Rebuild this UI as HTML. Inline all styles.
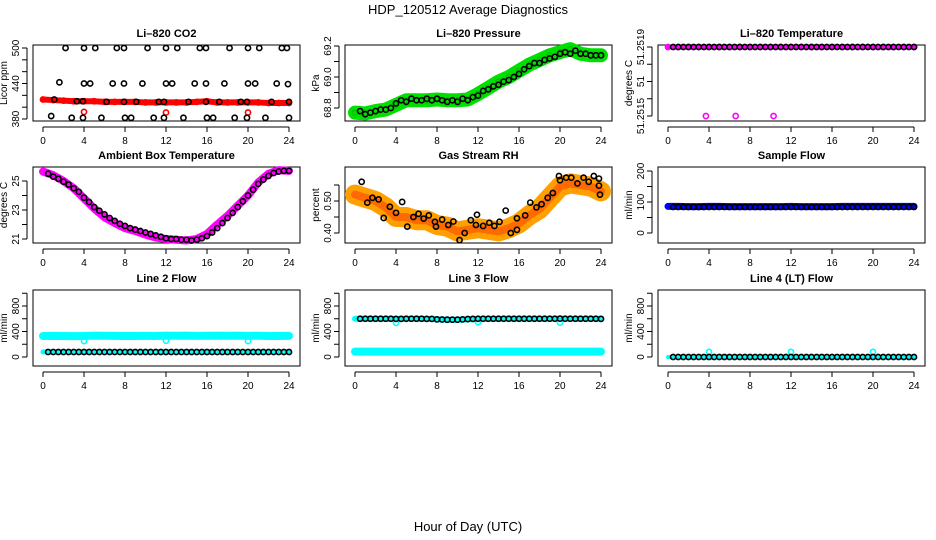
<!DOCTYPE html>
<html><head><meta charset="utf-8"><style>
html,body{margin:0;padding:0;background:#fff;}
svg{display:block;font-family:"Liberation Sans",sans-serif;}
</style></head><body>
<svg id="chart" width="936" height="540" viewBox="0 0 936 540" xmlns="http://www.w3.org/2000/svg">
<text x="468" y="14" text-anchor="middle" font-size="13">HDP_120512  Average Diagnostics</text>
<text x="468" y="531" text-anchor="middle" font-size="13">Hour of Day (UTC)</text>
</svg>
<script>
const H25=[0,1,2,3,4,5,6,7,8,9,10,11,12,13,14,15,16,17,18,19,20,21,22,23,24];
const H48=[0.5,1,1.5,2,2.5,3,3.5,4,4.5,5,5.5,6,6.5,7,7.5,8,8.5,9,9.5,10,10.5,11,11.5,12,12.5,13,13.5,14,14.5,15,15.5,16,16.5,17,17.5,18,18.5,19,19.5,20,20.5,21,21.5,22,22.5,23,23.5,24];
const xTicks=[0,4,8,12,16,20,24];
const OUT_H=[4,12,20];
// CO2
const co2Red=[413,412,411,410,410,410,409,409,409,409,408,408,408,408,408,409,410,408,408,408,408,408,407,407,407];
const co2RedOutV=[392,391,391];
const co2BlackH=[2.2,4.0,5.1,7.2,7.9,10.2,12.0,13.1,15.3,15.9,18.2,20.0,21.1,23.3,23.8,1.6,4.0,4.6,6.8,7.9,9.7,12.0,12.6,14.8,15.9,17.7,20.0,20.7,22.8,23.9,1.1,3.3,3.9,6.2,7.9,9.1,11.3,11.8,14.2,15.9,17.2,19.3,19.9,22.3,24,0.8,2.8,3.9,5.7,8.0,8.6,10.8,11.8,13.7,16.0,16.6,18.7,19.9,21.7,24];
const co2BlackV=[500,500,500,500,500,500,500,500,500,500,500,500,500,500,500,442,440,440,440,440,440,440,440,440,440,440,440,440,440,439,413,410,410,409,409,409,409,409,409,409,409,409,409,409,409,385,382,382,382,382,382,382,382,382,382,382,382,382,382,382];
// Pressure
const presGreen=[68.77,68.765,68.78,68.79,68.82,68.85,68.85,68.85,68.855,68.85,68.85,68.855,68.89,68.93,68.97,69.0,69.04,69.08,69.11,69.14,69.16,69.18,69.15,69.14,69.14];
const presBlack=[68.78,68.76,68.77,68.78,68.79,68.79,68.80,68.83,68.85,68.84,68.86,68.85,68.85,68.86,68.85,68.86,68.85,68.84,68.85,68.84,68.86,68.85,68.87,68.88,68.91,68.92,68.94,68.95,68.97,68.98,69.0,69.02,69.05,69.07,69.09,69.09,69.11,69.12,69.13,69.15,69.16,69.15,69.17,69.15,69.15,69.14,69.14,69.14];
// Li-820 temperature
const ltMag=[51.2519,51.2519,51.2519,51.2519,51.2519,51.2519,51.2519,51.2519,51.2519,51.2519,51.2519,51.2519,51.2519,51.2519,51.2519,51.2519,51.2519,51.2519,51.2519,51.2519,51.2519,51.2519,51.2519,51.2519,51.2519];
const ltMagOutH=[3.7,6.6,10.3];
const ltMagOutV=[51.2515,51.2515,51.2515];
const ltBlack=H48.map(()=>51.2519);
// Ambient
const ambMag=[25.65,25.4,25.0,24.5,23.8,23.1,22.5,22.1,21.75,21.55,21.3,21.1,21.0,20.95,20.9,21.0,21.35,22.0,22.6,23.3,24.0,24.9,25.5,25.75,25.7];
const ambBlack=[25.5,25.3,25.15,24.95,24.75,24.5,24.25,23.85,23.55,23.2,22.95,22.7,22.45,22.25,22.05,21.9,21.75,21.65,21.55,21.45,21.35,21.25,21.15,21.05,21.0,21.0,20.95,20.95,20.9,20.95,21.05,21.2,21.45,21.75,22.1,22.45,22.8,23.2,23.6,24.0,24.4,24.8,25.1,25.35,25.55,25.65,25.7,25.7];
// RH
const rhBand=[0.52,0.51,0.50,0.48,0.45,0.45,0.44,0.44,0.425,0.42,0.405,0.41,0.415,0.41,0.405,0.415,0.43,0.455,0.475,0.51,0.545,0.555,0.55,0.545,0.53];
const rhBlackH=[0.65,1.2,1.7,2.3,3.4,2.8,4,4.6,5.1,5.7,6.2,6.7,7.2,7.8,7.9,8.5,9.1,9.6,10.2,10.7,11.3,11.8,11.9,12.5,13.1,13.6,14.1,14.7,15.2,15.8,15.8,16.6,17.1,17.7,18.2,18.8,19.3,19.9,20,20.6,21.1,21.7,22.3,22.8,23.3,23.8,23.8,23.9];
const rhBlackV=[0.56,0.495,0.51,0.505,0.482,0.447,0.463,0.497,0.42,0.45,0.46,0.445,0.455,0.435,0.42,0.442,0.425,0.436,0.378,0.40,0.44,0.425,0.457,0.422,0.432,0.422,0.435,0.47,0.40,0.41,0.446,0.455,0.495,0.48,0.49,0.51,0.525,0.578,0.565,0.573,0.573,0.555,0.573,0.56,0.578,0.57,0.548,0.52];
// Sample flow
const sfBlue=[86,86,85,85,86,86,85,85,85,85,85,85,86,85,85,85,85,86,86,86,86,86,86,86,86];
const sfBlack=H48.map(()=>84);
// Line 2
const l2CyanHigh=[330,332,330,328,330,335,333,332,330,330,331,330,335,333,335,332,333,335,333,335,332,333,330,330,332];
const l2CyanOutV=[250,255,250];
const l2CyanLow=[80,80,80,80,80,80,80,80,80,80,80,80,80,80,80,80,80,80,80,80,80,80,80,80,80];
const l2Black=H48.map(()=>78);
// Line 3
const l3CyanHigh=[600,600,600,598,598,600,600,598,592,585,585,590,595,598,600,600,600,600,600,600,600,600,600,600,598];
const l3CyanOutV=[535,545,540];
const l3CyanLow=[85,85,85,85,85,85,85,85,85,85,85,85,85,85,85,85,85,85,85,85,85,85,85,85,85];
const l3Black=[600,600,600,600,600,600,600,598,598,600,600,600,600,598,598,590,588,585,585,585,590,595,598,600,600,600,600,600,600,600,600,600,600,600,600,600,600,600,600,602,600,600,600,600,600,600,600,598];
// Line 4
const l4Cyan=[0,0,0,0,0,0,0,0,0,0,0,0,0,0,0,0,0,0,0,0,0,0,0,0,0];
const l4CyanOutV=[80,80,80];
const l4Black=H48.map(()=>0);

const NS="http://www.w3.org/2000/svg";
const svg=document.getElementById('chart');
const LEFTS=[33,345,658], TOPS=[45,167,290], W=267, HGT=76;
function mk(tag,attrs,parent){const e=document.createElementNS(NS,tag);for(const k in attrs)e.setAttribute(k,attrs[k]);(parent||svg).appendChild(e);return e;}

const panels=[
 {t:"Li\u2013820 CO2",yl:"Licor ppm",a:[380,119],b:[500,48],ticks:[380,400,420,440,460,480,500],labs:["380","440","500"],lv:[380,440,500]},
 {t:"Li\u2013820 Pressure",yl:"kPa",a:[68.8,108],b:[69.2,46],ticks:[68.8,68.9,69.0,69.1,69.2],labs:["68.8","69.0","69.2"],lv:[68.8,69.0,69.2]},
 {t:"Li\u2013820 Temperature",yl:"degrees C",a:[51.2515,116],b:[51.2519,47],ticks:[51.2515,51.2516,51.2517,51.2518,51.2519],labs:["51.2515","51","51.2519"],lv:[51.2515,51.2517,51.2519]},
 {t:"Ambient Box Temperature",yl:"degrees C",a:[21,239],b:[25,181],ticks:[21,22,23,24,25],labs:["21","23","25"],lv:[21,23,25]},
 {t:"Gas Stream RH",yl:"percent",a:[0.40,233],b:[0.50,201],ticks:[0.40,0.45,0.50,0.55],labs:["0.40","0.50"],lv:[0.40,0.50]},
 {t:"Sample Flow",yl:"ml/min",a:[0,233],b:[200,171],ticks:[0,50,100,150,200],labs:["0","100","200"],lv:[0,100,200]},
 {t:"Line 2 Flow",yl:"ml/min",a:[0,357],b:[800,306],ticks:[0,200,400,600,800,1000],labs:["0","400","800"],lv:[0,400,800]},
 {t:"Line 3 Flow",yl:"ml/min",a:[0,357],b:[800,306],ticks:[0,200,400,600,800,1000],labs:["0","400","800"],lv:[0,400,800]},
 {t:"Line 4 (LT) Flow",yl:"ml/min",a:[0,357],b:[800,306],ticks:[0,200,400,600,800,1000],labs:["0","400","800"],lv:[0,400,800]}
];
const slug=s=>s.toLowerCase().replace(/[^a-z0-9]+/g,'-').replace(/^-|-$/g,'');
const axes=[];
panels.forEach((p,i)=>{
  const L=LEFTS[i%3], T=TOPS[Math.floor(i/3)], B=T+HGT, R=L+W;
  const xs=h=>L+10+h*10.25;
  const ys=v=>p.a[1]+(v-p.a[0])*(p.b[1]-p.a[1])/(p.b[0]-p.a[0]);
  const g=mk('g',{});
  
  
  axes.push({g,xs,ys,L,T,B,R});
  const tt=mk('text',{x:(L+R)/2,y:T-8,'text-anchor':'middle','font-size':'11','font-weight':'bold'},g);tt.textContent=p.t;
  
  
  const box=mk('rect',{x:L,y:T,width:W,height:HGT,fill:'none',stroke:'#000','stroke-width':1},g);
  
  
  mk('line',{x1:xs(0),x2:xs(24),y1:B+6,y2:B+6,stroke:'#000'},g);
  xTicks.forEach(h=>{
    mk('line',{x1:xs(h),x2:xs(h),y1:B+6,y2:B+11,stroke:'#000'},g);
    const tl=mk('text',{x:xs(h),y:B+23,'text-anchor':'middle','font-size':'10'},g);tl.textContent=h;
    
    
  });
  mk('line',{x1:L-6,x2:L-6,y1:ys(p.ticks[0]),y2:ys(p.ticks[p.ticks.length-1]),stroke:'#000'},g);
  p.ticks.forEach(v=>mk('line',{x1:L-11,x2:L-6,y1:ys(v),y2:ys(v),stroke:'#000'},g));
  p.lv.forEach((v,k)=>{
    const tl=mk('text',{x:L-14,y:ys(v),'text-anchor':'middle','font-size':'10',transform:`rotate(-90 ${L-14} ${ys(v)})`},g);tl.textContent=p.labs[k];
    
    
  });
  const yt=mk('text',{x:L-26,y:(T+B)/2,'text-anchor':'middle','font-size':'10',transform:`rotate(-90 ${L-26} ${(T+B)/2})`},g);yt.textContent=p.yl;
  
  
});

function band(i,hs,vs,color,w){const a=axes[i];
  const pl=mk('polyline',{points:hs.map((h,k)=>a.xs(h)+','+a.ys(vs[k])).join(' '),fill:'none',stroke:color,'stroke-width':w,'stroke-linejoin':'round','stroke-linecap':'round'},a.g);
  
  
}
function pts(i,hs,vs,color,nm){const a=axes[i];
  hs.forEach((h,k)=>{const c=mk('circle',{cx:a.xs(h),cy:a.ys(vs[k]),r:2.6,fill:'none',stroke:color,'stroke-width':1.6},a.g);
    
    });
}
band(0,H25,co2Red,'#ff0000',6);pts(0,H25,co2Red,'#ff0000','co2-red-point');pts(0,OUT_H,co2RedOutV,'#ff0000','co2-red-point');
pts(0,co2BlackH,co2BlackV,'#000','co2-black-point');
band(1,H25,presGreen,'#00e000',14);pts(1,H25,presGreen,'#00c000','pressure-green-point');pts(1,H48,presBlack,'#000','pressure-black-point');
band(2,H25,ltMag,'#ff00ff',4);pts(2,H25,ltMag,'#ff00ff','temp-magenta-point');pts(2,ltMagOutH,ltMagOutV,'#ff00ff','temp-magenta-point');pts(2,H48,ltBlack,'#000','temp-black-point');
band(3,H25,ambMag,'#ff00ff',8);pts(3,H48,ambBlack,'#000','ambient-black-point');
band(4,H25,rhBand,'#ffa000',20);band(4,H25,rhBand,'#ff6a00',8);pts(4,rhBlackH,rhBlackV,'#000','rh-black-point');
band(5,H25,sfBlue,'#0000ff',7);pts(5,H48,sfBlack,'#000','sample-black-point');
band(6,H25,l2CyanHigh,'#00ffff',8);pts(6,OUT_H,l2CyanOutV,'#00ffff','line2-cyan-point');band(6,H25,l2CyanLow,'#00ffff',5);pts(6,H48,l2Black,'#000','line2-black-point');
band(7,H25,l3CyanLow,'#00ffff',8);band(7,H25,l3CyanHigh,'#00ffff',6);pts(7,OUT_H,l3CyanOutV,'#00ffff','line3-cyan-point');pts(7,H48,l3Black,'#000','line3-black-point');
band(8,H25,l4Cyan,'#00ffff',4);pts(8,OUT_H,l4CyanOutV,'#00ffff','line4-cyan-point');pts(8,H48,l4Black,'#000','line4-black-point');
</script>
</body></html>
